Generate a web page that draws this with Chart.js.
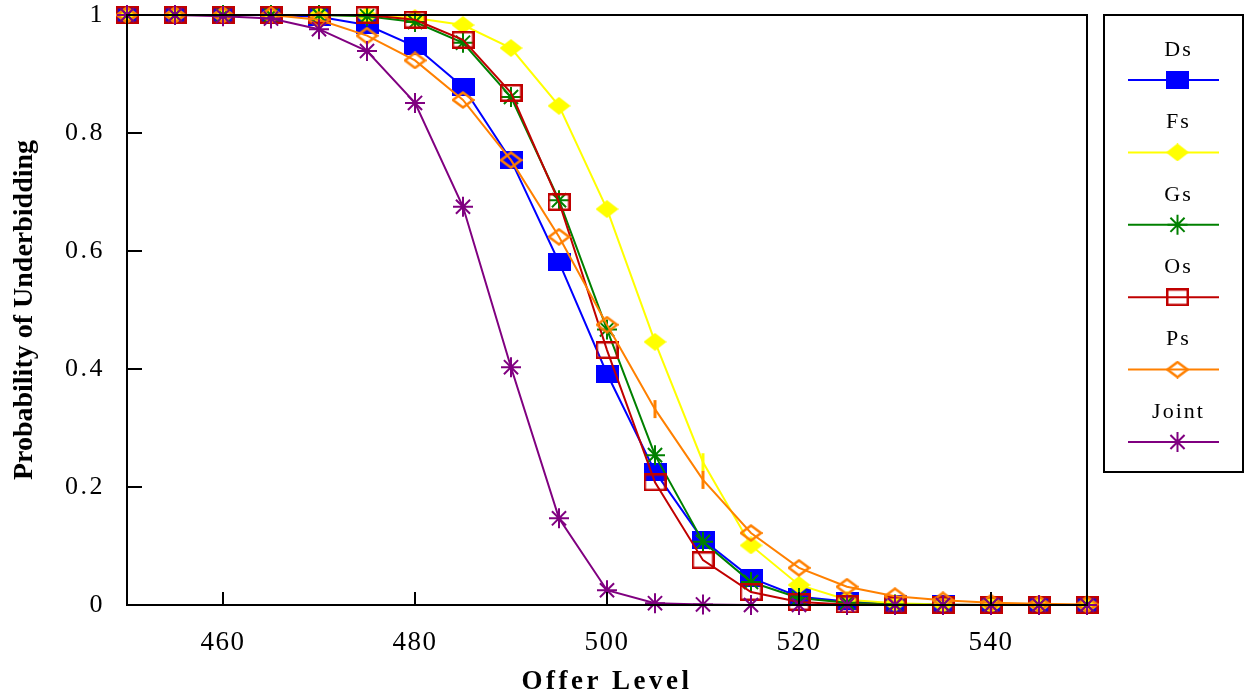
<!DOCTYPE html>
<html>
<head>
<meta charset="utf-8">
<script src="https://cdn.jsdelivr.net/npm/chart.js@4.4.1/dist/chart.umd.min.js"></script>
<style>
html,body{margin:0;padding:0;background:#fff;overflow:hidden}
#wrap{position:relative;width:1244px;height:698px}
</style>
</head>
<body>
<div id="wrap"><canvas id="c" width="1244" height="698"></canvas></div>
<script>
// ---------- data ----------
const offerLevels = [450,455,460,465,470,475,480,485,490,495,500,505,510,515,520,525,530,535,540,545,550];
const seriesNames = ['Ds','Fs','Gs','Os','Ps','Joint'];
const dsValues    = [1,1,1,1,0.997,0.983,0.947,0.878,0.754,0.581,0.392,0.226,0.110,0.046,0.014,0.006,0.002,0.001,0,0,0];
const fsValues    = [1,1,1,1,1,0.999,0.995,0.983,0.944,0.846,0.671,0.446,0.242,0.101,0.034,0.009,0.003,0.001,0,0,0];
const gsValues    = [1,1,1,1,1,0.998,0.988,0.953,0.861,0.686,0.467,0.254,0.107,0.039,0.012,0.004,0.001,0,0,0,0];
const osValues    = [1,1,1,1,1,1,0.992,0.958,0.868,0.683,0.432,0.208,0.076,0.022,0.005,0.001,0,0,0,0,0];
const psValues    = [1,1,1,1,0.992,0.965,0.923,0.856,0.754,0.624,0.475,0.332,0.212,0.122,0.063,0.031,0.015,0.008,0.004,0.002,0.001];
const jointValues = [1,1,0.998,0.994,0.976,0.939,0.851,0.675,0.403,0.147,0.025,0.003,0.001,0,0,0,0,0,0,0,0];
const xTickValues = [460,480,500,520,540];
const xTickLabels = ['460','480','500','520','540'];
const yTickValues = [0,0.2,0.4,0.6,0.8,1];
const yTickLabels = ['0','0.2','0.4','0.6','0.8','1'];
// points drawn with a short vertical bar instead of the series marker
const fsBarPoints = [510];
const psBarPoints = [505,510];

// ---------- styles ----------
const SERIF = "'Liberation Serif','DejaVu Serif',serif";
const colors = {Ds:'#0000FF', Fs:'#FFFF00', Gs:'#008000', Os:'#C00000', Ps:'#FF8000', Joint:'#800080'};

function markerCanvas(kind, color){
  const w = 23, h = 18;
  const cv = document.createElement('canvas');
  cv.width = w; cv.height = h;
  const c = cv.getContext('2d');
  c.fillStyle = color; c.strokeStyle = color; c.lineWidth = 2.5;
  if (kind === 'rectFill') { c.fillRect(0,0,w,h); }
  else if (kind === 'rectOpen') { c.strokeRect(1.25,1.25,w-2.5,h-2.5); }
  else {
    c.beginPath();
    if (kind === 'diamondFill') {
      c.moveTo(w/2,0); c.lineTo(w,h/2); c.lineTo(w/2,h); c.lineTo(0,h/2); c.closePath(); c.fill();
    } else {
      c.moveTo(w/2,1.5); c.lineTo(w-1.5,h/2); c.lineTo(w/2,h-1.5); c.lineTo(1.5,h/2); c.closePath(); c.stroke();
    }
  }
  return cv;
}
const markers = {
  Ds: markerCanvas('rectFill', colors.Ds),
  Fs: markerCanvas('diamondFill', colors.Fs),
  Gs: 'star',
  Os: markerCanvas('rectOpen', colors.Os),
  Ps: markerCanvas('diamondOpen', colors.Ps),
  Joint: 'star'
};

function styleArrays(name, bars){
  return {
    pointStyle: offerLevels.map(v => bars.includes(v) ? 'line' : markers[name]),
    pointRotation: offerLevels.map(v => bars.includes(v) ? 90 : 0),
    pointBorderWidth: offerLevels.map(v => bars.includes(v) ? 3 : 2),
    pointRadius: offerLevels.map(v => bars.includes(v) ? 9 : 10)
  };
}

const valueSets = [dsValues, fsValues, gsValues, osValues, psValues, jointValues];
const datasets = seriesNames.map((name, i) => {
  const bars = name === 'Fs' ? fsBarPoints : (name === 'Ps' ? psBarPoints : []);
  const st = styleArrays(name, bars);
  return {
    label: name,
    data: valueSets[i].map((v, k) => ({x: offerLevels[k], y: v})),
    borderColor: colors[name],
    backgroundColor: colors[name],
    pointBackgroundColor: colors[name],
    pointBorderColor: colors[name],
    borderWidth: 2,
    tension: 0,
    clip: false,
    order: seriesNames.length - 1 - i,
    pointStyle: st.pointStyle,
    pointRotation: st.pointRotation,
    pointBorderWidth: st.pointBorderWidth,
    pointRadius: st.pointRadius,
    pointHoverRadius: st.pointRadius
  };
});

// ---------- plugins ----------
function wrapSpacing(scale, method, spacing){
  const key = '_wrapped_' + method;
  if (scale[key]) return;
  const orig = scale[method];
  scale[method] = function(...args){
    const c = this.ctx; c.save(); c.letterSpacing = spacing; orig.apply(this, args); c.restore();
  };
  scale[key] = true;
}
const spacingPlugin = {
  id: 'spacing',
  beforeDraw(chart){
    const {x, y} = chart.scales;
    wrapSpacing(x, 'drawLabels', '1.5px');
    wrapSpacing(x, 'drawTitle', '3.5px');
    wrapSpacing(y, 'drawLabels', '2.5px');
    wrapSpacing(y, 'drawTitle', '0px');
  }
};

const framePlugin = {
  id: 'frame',
  afterDatasetsDraw(chart){
    const {ctx, chartArea: a, scales: {x, y}} = chart;
    ctx.save();
    ctx.strokeStyle = '#000';
    ctx.lineWidth = 2;
    ctx.strokeRect(a.left, a.top, a.right - a.left, a.bottom - a.top);
    ctx.beginPath();
    xTickValues.forEach(v => { const px = x.getPixelForValue(v); ctx.moveTo(px, a.bottom); ctx.lineTo(px, a.bottom - 13); });
    yTickValues.forEach(v => { const py = y.getPixelForValue(v); ctx.moveTo(a.left, py); ctx.lineTo(a.left + 15, py); });
    ctx.stroke();
    ctx.restore();
  }
};

const legendPlugin = {
  id: 'boxLegend',
  afterDraw(chart){
    const ctx = chart.ctx;
    const box = {l: 1104, t: 15, r: 1243, b: 472};
    const cx = (box.l + box.r) / 2 + 4;
    ctx.save();
    ctx.strokeStyle = '#000'; ctx.lineWidth = 2;
    ctx.strokeRect(box.l, box.t, box.r - box.l, box.b - box.t);
    chart.data.datasets.forEach((d, i) => {
      const ty = 50 + i * 72.4, ly = 80 + i * 72.4;
      ctx.fillStyle = '#000';
      ctx.font = '22px ' + SERIF;
      ctx.letterSpacing = '2px';
      ctx.textAlign = 'center'; ctx.textBaseline = 'middle';
      ctx.fillText(d.label, cx + 1, ty);
      ctx.letterSpacing = '0px';
      ctx.strokeStyle = d.borderColor; ctx.lineWidth = 2;
      ctx.beginPath(); ctx.moveTo(1128, ly); ctx.lineTo(1219, ly); ctx.stroke();
      const m = markers[d.label];
      if (typeof m === 'string') {
        ctx.fillStyle = d.borderColor;
        Chart.helpers.drawPoint(ctx, {pointStyle: m, radius: 10, rotation: 0, borderWidth: 2}, cx, ly);
      } else {
        ctx.drawImage(m, cx - m.width / 2, ly - m.height / 2);
      }
    });
    ctx.restore();
  }
};

// ---------- chart ----------
new Chart(document.getElementById('c'), {
  type: 'line',
  data: { datasets },
  options: {
    responsive: false,
    animation: false,
    devicePixelRatio: 1,
    layout: { padding: { top: 15, right: 157, left: 0, bottom: 0 } },
    plugins: { legend: { display: false }, tooltip: { enabled: false } },
    scales: {
      x: {
        type: 'linear', min: 450, max: 550,
        afterBuildTicks: s => { s.ticks = xTickValues.map(v => ({value: v})); },
        afterFit: s => { s.height = 93; s.paddingLeft = 0; s.paddingRight = 0; },
        grid: { display: false },
        border: { display: false },
        ticks: {
          autoSkip: false, maxRotation: 0, padding: 14, color: '#000',
          font: { family: SERIF, size: 27 },
          callback: (v, i) => xTickLabels[i]
        },
        title: {
          display: true, text: 'Offer Level', color: '#000',
          font: { family: SERIF, size: 27, weight: 'bold' },
          padding: { top: 0, bottom: 0 }
        }
      },
      y: {
        type: 'linear', min: 0, max: 1,
        afterBuildTicks: s => { s.ticks = yTickValues.map(v => ({value: v})); },
        afterFit: s => { s.width = 127; s.paddingTop = 0; s.paddingBottom = 0; },
        grid: { display: false },
        border: { display: false },
        ticks: {
          autoSkip: false, padding: 14, color: '#000',
          font: { family: SERIF, size: 26 },
          callback: (v, i) => yTickLabels[i]
        },
        title: {
          display: true, text: 'Probability of Underbidding', color: '#000',
          font: { family: SERIF, size: 28, weight: 'bold' },
          padding: { top: 8, bottom: 0 }
        }
      }
    }
  },
  plugins: [spacingPlugin, framePlugin, legendPlugin]
});
</script>
</body>
</html>
